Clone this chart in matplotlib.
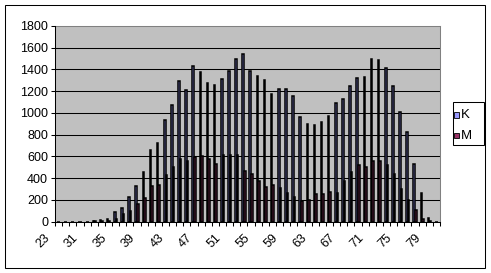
import matplotlib
matplotlib.use("Agg")
import matplotlib.pyplot as plt
import matplotlib.transforms as mtransforms
from matplotlib.patches import Rectangle
import numpy as np

plt.rcParams['font.family'] = ['Liberation Sans', 'DejaVu Sans']

categories = ["23", "28", "29", "30"] + [str(v) for v in range(31, 81)]
k_values = [0, 0, 0, 0, 0, 10, 12, 28, 85, 125,
            230, 325, 460, 655, 725, 940, 1075, 1295, 1212, 1432,
            1380, 1279, 1258, 1316, 1390, 1497, 1546, 1390, 1340, 1304,
            1175, 1221, 1218, 1156, 960, 899, 890, 917, 972, 1092,
            1132, 1252, 1319, 1331, 1497, 1488, 1414, 1248, 1009, 825,
            531, 261, 31, 0]
m_values = [0, 0, 0, 0, 0, 3, 5, 8, 28, 70,
            100, 160, 220, 330, 340, 425, 505, 580, 562, 592,
            607, 574, 531, 617, 613, 613, 466, 436, 374, 322,
            337, 307, 267, 224, 190, 196, 252, 252, 273, 267,
            377, 457, 521, 506, 558, 558, 521, 439, 301, 196,
            107, 21, 3, 0]
series_names = ["K", "M"]
series_colors = ["#9999FF", "#993366"]
y_ticks = list(range(0, 1801, 200))

W, H = 491, 273
fig = plt.figure(figsize=(W / 100, H / 100), dpi=100)
fig.patch.set_facecolor("white")

# chart area border
fig.patches.append(Rectangle((5 / W, 1 - 268 / H), 480 / W, 263 / H,
                             transform=fig.transFigure, fill=False,
                             edgecolor="black", linewidth=0.75, zorder=0))

ax = fig.add_axes([55 / W, 1 - 221.7 / H, 385 / W, 195.7 / H])
ax.set_facecolor("#C0C0C0")

n = len(categories)
x = np.arange(n) + 0.5
bw = 0.22
ax.bar(x - bw / 2, k_values, width=bw, color=series_colors[0],
       edgecolor="black", linewidth=1.1, zorder=3)
ax.bar(x + bw / 2, m_values, width=bw, color=series_colors[1],
       edgecolor="black", linewidth=1.1, zorder=3)

for v in y_ticks[1:-1]:
    ax.axhline(v, color="black", linewidth=0.75, zorder=1)

ax.set_xlim(0, n)
ax.set_ylim(0, 1800)
ax.set_yticks(y_ticks)
ax.set_yticklabels([str(v) for v in y_ticks], fontsize=9)

ax.set_xticks(np.arange(0, n + 1), minor=True)
major_idx = list(range(0, n, 4))
ax.set_xticks([x[i] for i in major_idx])
ax.set_xticklabels([categories[i] for i in major_idx], fontsize=9,
                   rotation=45, ha="right", va="center",
                   rotation_mode="anchor")
ax.tick_params(axis="x", which="major", length=0, pad=10.5)
ax.tick_params(axis="x", which="minor", length=3, width=0.75,
               direction="out", color="black")
ax.tick_params(axis="y", length=3, width=0.75, direction="out",
               pad=2, color="black")

offset = mtransforms.ScaledTranslation(-10.5 / 100, 0, fig.dpi_scale_trans)
for lab in ax.get_xticklabels():
    lab.set_transform(lab.get_transform() + offset)

for s in ["top", "right"]:
    ax.spines[s].set_color("#808080")
    ax.spines[s].set_linewidth(0.75)
for s in ["left", "bottom"]:
    ax.spines[s].set_color("black")
    ax.spines[s].set_linewidth(0.75)
    ax.spines[s].set_zorder(4)

# legend (drawn by hand to match Excel's layout)
fig.patches.append(Rectangle((452.7 / W, 1 - 145 / H), 31 / W, 42.7 / H,
                             transform=fig.transFigure, facecolor="white",
                             edgecolor="black", linewidth=0.75, zorder=1))
row_y = [115, 135.7]
for name, col, yy in zip(series_names, series_colors, row_y):
    fig.patches.append(Rectangle((453.8 / W, 1 - (yy + 2.6) / H), 5.2 / W, 5.2 / H,
                                 transform=fig.transFigure, facecolor=col,
                                 edgecolor="black", linewidth=0.6, zorder=2))
    fig.text(460.5 / W, 1 - yy / H, name, fontsize=9.5, ha="left",
             va="center", zorder=3)

fig.savefig("out.png", dpi=100, facecolor=fig.get_facecolor())
